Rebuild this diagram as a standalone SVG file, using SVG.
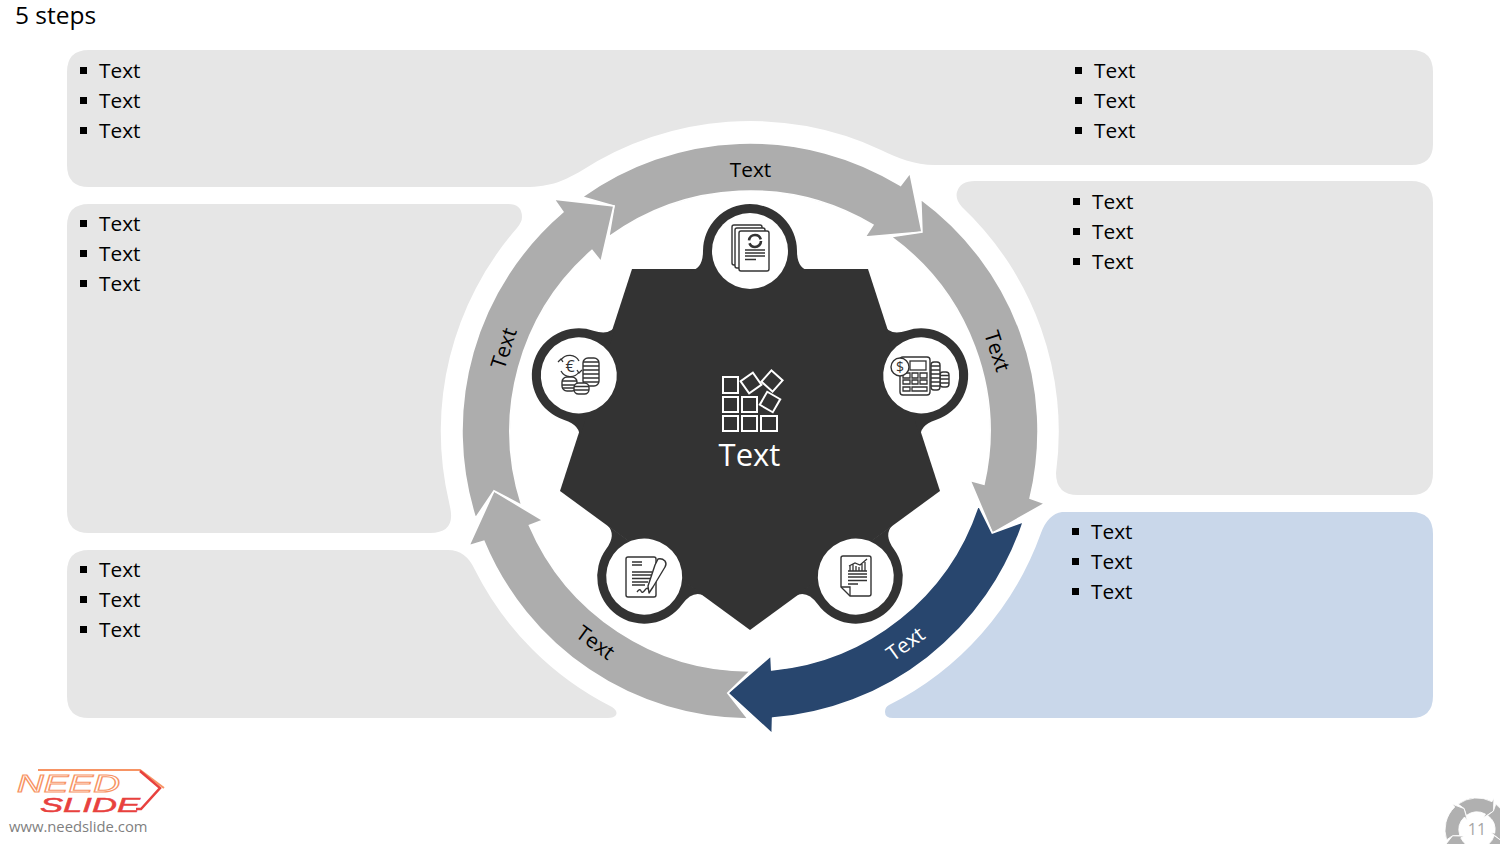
<svg xmlns="http://www.w3.org/2000/svg" width="1500" height="844" viewBox="0 0 1500 844">
<style>
text{font-family:"Open Sans","Noto Sans","Liberation Sans",sans-serif}
.t{font-size:20.800px;fill:#000;dominant-baseline:central;transform:translateY(-0.8px)}
.lab{font-size:20.800px;fill:#000;text-anchor:middle;dominant-baseline:central}
.p{fill:#e6e6e6}
.dark{fill:#333}
.ar{stroke:#fff;stroke-width:1.6;stroke-linejoin:miter}
.i{fill:#fff;stroke:#333;stroke-width:1.4;stroke-linejoin:round}
.l{fill:none;stroke:#333;stroke-width:1.3}
.w{fill:none;stroke:#fff;stroke-width:2}
.b{fill:#000}
</style>
<defs>
<path id="arrow" d="M582.200,196.900 L614,206 L608.700,237 A240 240 0 0 1 872.900,224.900 L865,237 L922,232 L910,173 L900.500,185.400 A288 288 0 0 0 582.200,196.900 Z"/>
<g id="tab">
<path class="dark" d="M690,271 Q703,269 703,251 A47 47 0 1 1 797,251 Q797,269 810,271 Z"/>
<circle cx="750" cy="251" r="38" fill="#fff"/>
</g>
<path id="mini" d="M-18.800,-25.900 L-12.900,-21.400 L-10.600,-14.600 A18 18 0 0 1 8.500,-15.900 L6.600,-12.400 L16.400,-18.900 L16.900,-31.800 L15,-28.300 A32 32 0 0 0 -18.800,-25.900 Z" fill="#b0b0b0" stroke="#fff" stroke-width="0.8"/>
</defs>

<text x="15" y="24" font-size="24.500" fill="#000">5 steps</text>

<g id="panel-top">
<path class="p" d="M89,50 H1411 Q1433,50 1433,72 V144 Q1433,165 1411,165 H935 C914,165 898,158 881,150 A310 310 0 0 0 581,171 C565,180 552,187 525,187 H89 Q67,187 67,165 V72 Q67,50 89,50 Z"/>
<rect class="b" x="80" y="67" width="7" height="7"/><text class="t" x="99" y="71">Text</text>
<rect class="b" x="80" y="97" width="7" height="7"/><text class="t" x="99" y="101">Text</text>
<rect class="b" x="80" y="127" width="7" height="7"/><text class="t" x="99" y="131">Text</text>
<rect class="b" x="1075" y="67" width="7" height="7"/><text class="t" x="1094" y="71">Text</text>
<rect class="b" x="1075" y="97" width="7" height="7"/><text class="t" x="1094" y="101">Text</text>
<rect class="b" x="1075" y="127" width="7" height="7"/><text class="t" x="1094" y="131">Text</text>
</g>
<g id="panel-left">
<path class="p" d="M89,204 H508 Q522,204 522,217 Q522,222 517,228 A309 309 0 0 0 449,502 L450,507 Q456,533 430,533 H89 Q67,533 67,511 V226 Q67,204 89,204 Z"/>
<rect class="b" x="80" y="220" width="7" height="7"/><text class="t" x="99" y="224">Text</text>
<rect class="b" x="80" y="250" width="7" height="7"/><text class="t" x="99" y="254">Text</text>
<rect class="b" x="80" y="280" width="7" height="7"/><text class="t" x="99" y="284">Text</text>
</g>
<g id="panel-bottom-left">
<path class="p" d="M89,550 H448 Q466,550 475,570 A309 309 0 0 0 612,707 Q618,711 616,715 Q614,718 608,718 H89 Q67,718 67,696 V572 Q67,550 89,550 Z"/>
<rect class="b" x="80" y="566" width="7" height="7"/><text class="t" x="99" y="570">Text</text>
<rect class="b" x="80" y="596" width="7" height="7"/><text class="t" x="99" y="600">Text</text>
<rect class="b" x="80" y="626" width="7" height="7"/><text class="t" x="99" y="630">Text</text>
</g>
<g id="panel-right">
<path class="p" d="M975,181 H1411 Q1433,181 1433,203 V473 Q1433,495 1411,495 H1078 Q1056,495 1056,473 A309 309 0 0 0 962,207 Q955,199 957,192 Q960,181 975,181 Z"/>
<rect class="b" x="1073" y="198" width="7" height="7"/><text class="t" x="1092" y="202">Text</text>
<rect class="b" x="1073" y="228" width="7" height="7"/><text class="t" x="1092" y="232">Text</text>
<rect class="b" x="1073" y="258" width="7" height="7"/><text class="t" x="1092" y="262">Text</text>
</g>
<g id="panel-blue">
<path fill="#c9d7ea" d="M1062,512 H1411 Q1433,512 1433,534 V696 Q1433,718 1411,718 H893 Q885,718 885,712 Q885,707 889,705 A309 309 0 0 0 1041,533 Q1048,514 1062,512 Z"/>
<rect class="b" x="1072" y="528" width="7" height="7"/><text class="t" x="1091" y="532">Text</text>
<rect class="b" x="1072" y="558" width="7" height="7"/><text class="t" x="1091" y="562">Text</text>
<rect class="b" x="1072" y="588" width="7" height="7"/><text class="t" x="1091" y="592">Text</text>
</g>

<g id="connectors">
<use href="#arrow" class="ar" fill="#adadad"/>
<use href="#arrow" class="ar" fill="#adadad" transform="rotate(72 750 431)"/>
<use href="#arrow" class="ar" fill="#28466e" transform="rotate(144 750 431)"/>
<use href="#arrow" class="ar" fill="#adadad" transform="rotate(216 750 431)"/>
<use href="#arrow" class="ar" fill="#adadad" transform="rotate(288 750 431)"/>
<text class="lab" x="750.500" y="168.500">Text</text>
<text class="lab" transform="translate(998 351) rotate(72)">Text</text>
<text class="lab" transform="translate(905 643) rotate(-36)" style="fill:#fff">Text</text>
<text class="lab" transform="translate(596 642) rotate(36)">Text</text>
<text class="lab" transform="translate(503 348) rotate(-72)">Text</text>
</g>

<g id="center">
<polygon class="dark" points="632,269 868,269 940,491 750,630 560,491"/>
<rect class="w" x="723" y="377" width="15" height="16"/>
<rect class="w" x="723" y="397" width="15" height="15"/>
<rect class="w" x="742" y="397" width="15" height="15"/>
<rect class="w" x="723" y="416" width="15" height="15"/>
<rect class="w" x="742" y="416" width="15" height="15"/>
<rect class="w" x="761" y="416" width="16" height="15"/>
<rect class="w" x="743.500" y="375.500" width="15" height="15" transform="rotate(-35 751 383)"/>
<rect class="w" x="764.500" y="373.500" width="15" height="15" transform="rotate(42 772 381)"/>
<rect class="w" x="762.500" y="394.500" width="15" height="15" transform="rotate(30 770 402)"/>
<text x="749.500" y="466" font-size="31" fill="#fff" text-anchor="middle">Text</text>
</g>

<g id="node-1">
<use href="#tab"/>
<rect class="i" x="732" y="225" width="30" height="40" rx="2"/>
<rect class="i" x="735" y="228" width="30" height="40" rx="2"/>
<rect class="i" x="739" y="231" width="30" height="40" rx="2"/>
<circle cx="755" cy="241" r="6" fill="none" stroke="#333" stroke-width="2.600" stroke-dasharray="16 3"/>
<path class="l" d="M745,250H765M745,253H765M745,256H765M745,259.500H756"/>
</g>

<g id="node-2">
<use href="#tab" transform="rotate(72 750 431)"/>
<rect class="i" x="940" y="372" width="9" height="15" rx="3"/>
<path class="l" d="M940,375.500h9M940,379h9M940,383h9"/>
<rect class="i" x="931" y="362" width="9" height="28" rx="3"/>
<path class="l" d="M931,366h9M931,370h9M931,374h9M931,378h9M931,382h9M931,386h9"/>
<rect class="i" x="900" y="357" width="30" height="38" rx="3"/>
<rect class="l" x="910" y="361" width="16" height="9"/>
<path class="l" d="M903,373h7v5h-7zM912,373h6v5h-6zM920,373h7v5h-7zM903,380h7v4h-7zM912,380h6v4h-6zM920,380h7v4h-7zM903,387h7v4h-7zM912,387h15v4h-15z"/>
<circle class="i" cx="900" cy="367" r="9"/>
<text x="900" y="372" font-size="14" fill="#333" text-anchor="middle">$</text>
</g>

<g id="node-3">
<use href="#tab" transform="rotate(144 750 431)"/>
<path class="i" d="M843,556H869Q871,556 871,558V594Q871,596 869,596H850L841,587V558Q841,556 843,556Z"/>
<path class="l" d="M841,587H850V596"/>
<path class="l" d="M848,571H867M850,571v-5M853,571v-7M856,571v-5M859,571v-4M862,571v-7M865,571v-9M849,566L855,563L860,565L867,559M848,574H867M848,577H867M848,580.500H867M848,584H858"/>
</g>

<g id="node-4">
<use href="#tab" transform="rotate(216 750 431)"/>
<rect class="i" x="626" y="557" width="30" height="40" rx="2"/>
<path class="l" d="M632,562H642M632,565H642M632,572H652M632,575H652M632,578.500H650M632,582H648M632,585H645M637,592Q640,588 641,591T645,590T649,591"/>
<path class="i" d="M658,559Q662,558 665,561Q667,564 665,567L653,587L649,593L648,586L655,565Z"/>
</g>

<g id="node-5">
<use href="#tab" transform="rotate(288 750 431)"/>
<path class="l" d="M561,360A10.500 10.500 0 0 1 579,361M579,372A10.500 10.500 0 0 1 561,371M558,362l3,-3l2,3M582,370l-3,3l-2,-3"/>
<text x="570" y="372" font-size="16" fill="#333" text-anchor="middle">€</text>
<rect class="i" x="583" y="358" width="16" height="28" rx="5"/>
<path class="l" d="M583,362h16M583,366h16M583,370h16M583,374h16M583,378h16M583,382h16"/>
<rect class="i" x="562" y="377" width="15" height="14" rx="5"/>
<path class="l" d="M562,381h15M562,385h15M562,388h15"/>
<rect class="i" x="574" y="383" width="15" height="11" rx="4.500"/>
<path class="l" d="M574,386.500h15M574,390h15"/>
</g>

<g id="logo">
<text x="17" y="792" font-size="24" font-style="italic" fill="none" stroke="#f79464" stroke-width="1" textLength="103" lengthAdjust="spacingAndGlyphs" style="font-family:'Liberation Sans',sans-serif">NEED</text>
<text x="40" y="812" font-size="21" font-style="italic" fill="#e8413e" stroke="#e8413e" stroke-width="0.500" textLength="100" lengthAdjust="spacingAndGlyphs" style="font-family:'Liberation Sans',sans-serif">SLIDE</text>
<path d="M38,770H140L164,788" fill="none" stroke="#f79464" stroke-width="2"/>
<path d="M140,771L160,788L141,809H136" fill="none" stroke="#e8413e" stroke-width="2.500"/>
<text x="9" y="832" font-size="14.800" fill="#7f7f7f">www.needslide.com</text>
</g>

<g id="page-number">
<g transform="translate(1477 830)">
<use href="#mini"/>
<use href="#mini" transform="rotate(72)"/>
<use href="#mini" transform="rotate(144)"/>
<use href="#mini" transform="rotate(216)"/>
<use href="#mini" transform="rotate(288)"/>
</g>
<text x="1477" y="835" font-size="16" fill="#a6a6a6" text-anchor="middle">11</text>
</g>
</svg>
